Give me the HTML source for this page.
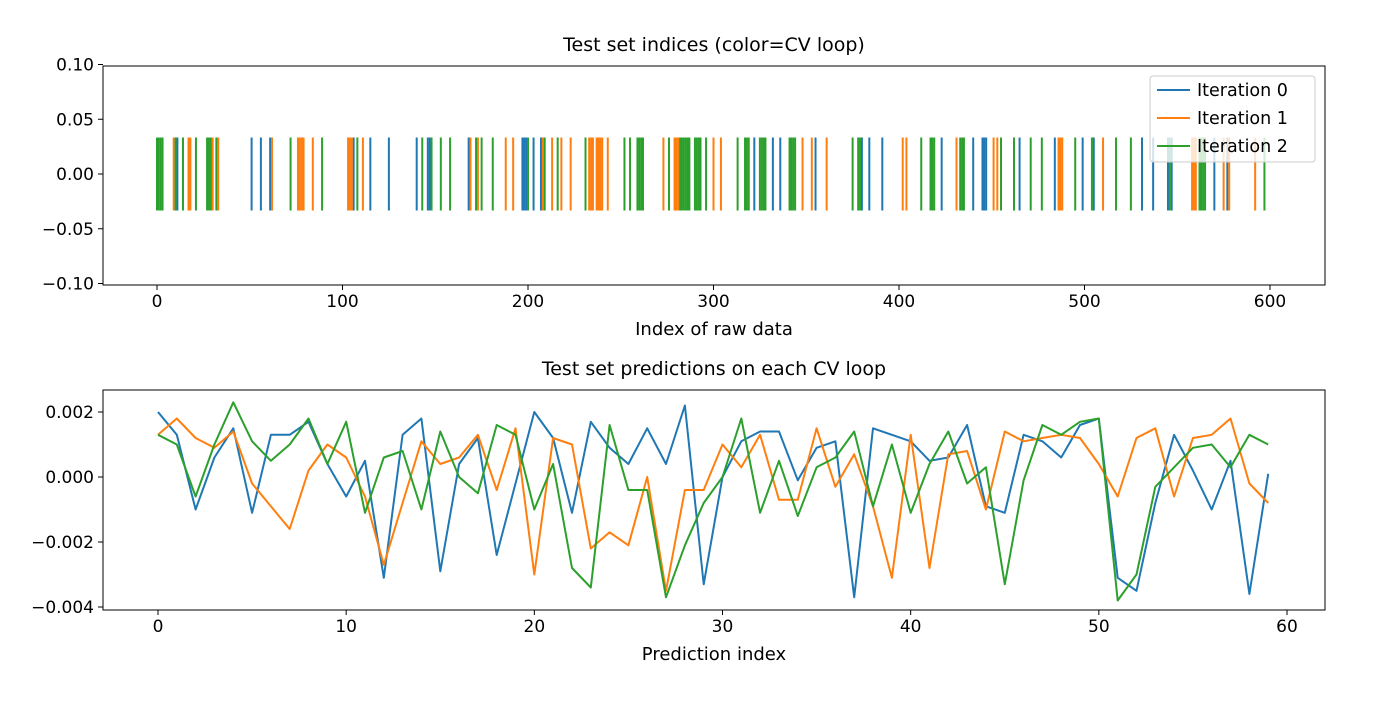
<!DOCTYPE html>
<html><head><meta charset="utf-8"><style>
body{margin:0;background:#fff;}
svg text{font-family:"DejaVu Sans","Liberation Sans",sans-serif;fill:#000;}
</style></head><body>
<svg id="fig" width="1378" height="706" xmlns="http://www.w3.org/2000/svg">
<rect width="1378" height="706" fill="#fff"/>
<g id="top"></g>
<g id="bot"></g>
</svg>
<script>
const COLORS=['#1f77b4','#ff7f0e','#2ca02c'];
const seriesNames=['Iteration 0','Iteration 1','Iteration 2'];
const idx0=[11,51,56,61,106,115,125,140,146,147,168,197,198,199,203,207,322,332,336,355,380,384,391,423,440,445,446,447,465,484,499,505,531,537,545,547,570,577];
const idx1=[9,17,18,30,33,62,76,77,78,79,84,103,104,105,111,169,173,188,192,208,213,218,223,233,234,235,237,238,239,240,243,273,279,280,281,300,304,348,353,361,402,404,431,451,453,486,487,488,510,558,559,560,575,578,592];
const idx2=[0,1,2,3,10,14,21,27,28,29,32,72,89,108,143,148,153,158,172,175,181,200,209,216,231,252,255,259,260,261,262,276,282,283,284,285,286,287,290,291,292,293,296,313,317,318,319,325,326,327,328,341,342,343,344,375,378,379,412,417,418,419,433,434,435,455,462,471,477,495,504,517,525,546,562,563,564,565,597];
const topXTicks=[0,100,200,300,400,500,600];
const topYTicks=[0.10,0.05,0.00,-0.05,-0.10];
const pred0=[2.0,1.3,-1.0,0.6,1.5,-1.1,1.3,1.3,1.7,0.4,-0.6,0.5,-3.1,1.3,1.8,-2.9,0.4,1.2,-2.4,-0.2,2.0,1.2,-1.1,1.7,0.9,0.4,1.5,0.4,2.2,-3.3,0.0,1.1,1.4,1.4,-0.1,0.9,1.1,-3.7,1.5,1.3,1.1,0.5,0.6,1.6,-0.9,-1.1,1.3,1.1,0.6,1.6,1.8,-3.1,-3.5,-0.8,1.3,0.2,-1.0,0.5,-3.6,0.1];
const pred1=[1.3,1.8,1.2,0.9,1.4,-0.2,-0.9,-1.6,0.2,1.0,0.6,-0.6,-2.7,-0.8,1.1,0.4,0.6,1.3,-0.4,1.5,-3.0,1.2,1.0,-2.2,-1.7,-2.1,0.0,-3.5,-0.4,-0.4,1.0,0.3,1.3,-0.7,-0.7,1.5,-0.3,0.7,-0.9,-3.1,1.3,-2.8,0.7,0.8,-1.0,1.4,1.1,1.2,1.3,1.2,0.4,-0.6,1.2,1.5,-0.6,1.2,1.3,1.8,-0.2,-0.8];
const pred2=[1.3,1.0,-0.6,1.0,2.3,1.1,0.5,1.0,1.8,0.4,1.7,-1.1,0.6,0.8,-1.0,1.4,0.0,-0.5,1.6,1.3,-1.0,0.4,-2.8,-3.4,1.6,-0.4,-0.4,-3.7,-2.1,-0.8,0.0,1.8,-1.1,0.5,-1.2,0.3,0.6,1.4,-0.9,1.0,-1.1,0.4,1.4,-0.2,0.3,-3.3,-0.1,1.6,1.3,1.7,1.8,-3.8,-3.0,-0.3,0.3,0.9,1.0,0.3,1.3,1.0];
const botXTicks=[0,10,20,30,40,50,60];
const botYTicks=[0.002,0.000,-0.002,-0.004];

const NS='http://www.w3.org/2000/svg';
function mk(parent,tag,attrs,text){const e=document.createElementNS(NS,tag);for(const k in attrs)e.setAttribute(k,attrs[k]);if(text!==undefined)e.textContent=text;parent.appendChild(e);return e;}
function fmt(v,d){const s=Math.abs(v).toFixed(d);return (v<-1e-12?'\u2212':'')+s;}

function axes(g,L,T,R,B,xs,ys,xt,yt,yd,title,xlabel){
  const t=mk(g,'text',{x:(L+R)/2,y:T-15,'font-size':19,'text-anchor':'middle'},title);
  
  
  xt.forEach(v=>{const x=xs(v);
    const l=mk(g,'line',{x1:x,x2:x,y1:B,y2:B+5,stroke:'#000','stroke-width':1});
    
    
    const tx=mk(g,'text',{x:x,y:B+22,'font-size':17,'text-anchor':'middle'},String(v));
    
    });
  yt.forEach(v=>{const y=ys(v);
    const l=mk(g,'line',{x1:L-5,x2:L,y1:y,y2:y,stroke:'#000','stroke-width':1});
    
    
    const tx=mk(g,'text',{x:L-9,y:y+6,'font-size':17,'text-anchor':'end'},fmt(v,yd));
    
    });
  const xl=mk(g,'text',{x:(L+R)/2,y:B+50,'font-size':18,'text-anchor':'middle'},xlabel);
  
  
}
function frame(g,L,T,R,B){const f=mk(g,'rect',{x:L,y:T,width:R-L,height:B-T,fill:'none',stroke:'#000','stroke-width':1});
  
  }

(function(){
  const g=document.getElementById('top');
  const L=103,T=66,R=1325,B=285;
  const xs=v=>157+v*(1270-157)/600;
  const ys=v=>174-v*(285-66)/0.2;
  [idx0,idx1,idx2].forEach((arr,s)=>{
    arr.forEach(i=>{const x=xs(i);
      const l=mk(g,'line',{x1:x,x2:x,y1:ys(0.0333),y2:ys(-0.0333),stroke:COLORS[s],'stroke-width':2});
      
      });
  });
  axes(g,L,T,R,B,xs,ys,topXTicks,topYTicks,2,'Test set indices (color=CV loop)','Index of raw data');
  frame(g,L,T,R,B);
  const lg=mk(g,'g',{});
  
  
  mk(lg,'rect',{x:1150,y:76,width:165,height:86,rx:3,fill:'#fff','fill-opacity':0.8,stroke:'#ccc'});
  seriesNames.forEach((n,s)=>{const y=90+s*28;
    const e=mk(lg,'g',{});
    
    
    mk(e,'line',{x1:1157,x2:1190,y1:y,y2:y,stroke:COLORS[s],'stroke-width':2});
    mk(e,'text',{x:1197,y:y+6,'font-size':17.5},n);});
})();

(function(){
  const g=document.getElementById('bot');
  const L=103,T=390,R=1325,B=610;
  const xs=v=>158+v*(1287-158)/60;
  const ys=v=>477-v*65/0.002;
  [pred0,pred1,pred2].forEach((arr,s)=>{
    const pts=arr.map((v,i)=>xs(i).toFixed(1)+','+ys(v*0.001).toFixed(1)).join(' ');
    const p=mk(g,'polyline',{points:pts,fill:'none',stroke:COLORS[s],'stroke-width':2,'stroke-linejoin':'round'});
    
    
  });
  axes(g,L,T,R,B,xs,ys,botXTicks,botYTicks,3,'Test set predictions on each CV loop','Prediction index');
  frame(g,L,T,R,B);
})();
</script>
</body></html>
